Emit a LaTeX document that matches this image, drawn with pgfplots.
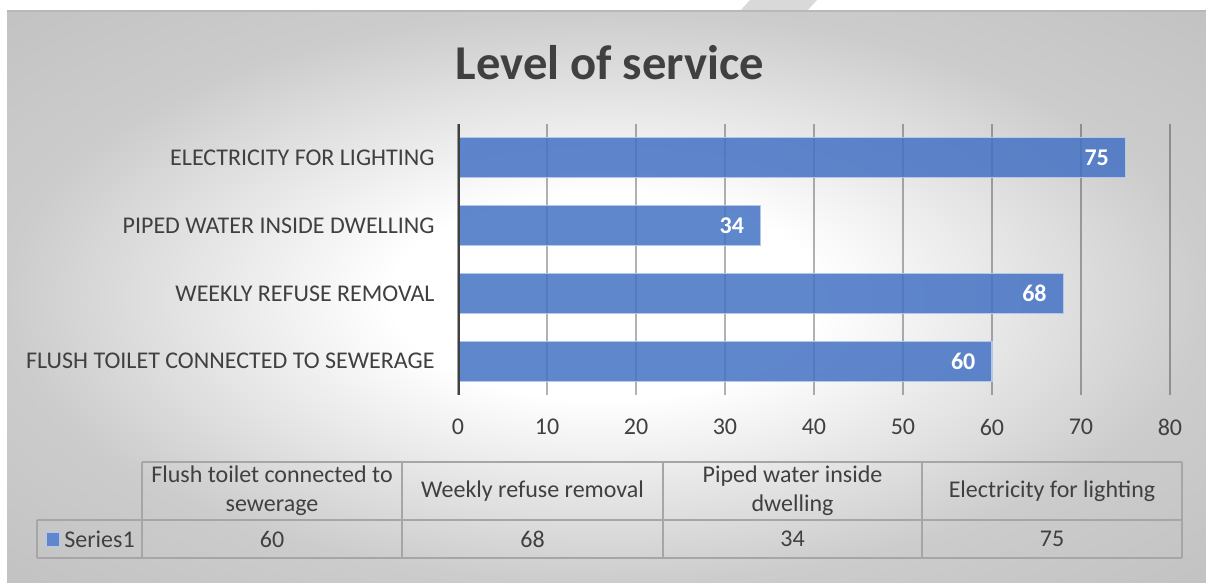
\documentclass[border=0pt]{standalone}
\usepackage{fontspec}
\setmainfont{Carlito}
\usepackage{pgfplots}
\pgfplotsset{compat=1.18}
\definecolor{barblue}{HTML}{4472C4}
\definecolor{txt}{HTML}{404040}
\definecolor{tline}{HTML}{A6A6A6}
\pgfdeclareradialshading{bgshade}{\pgfpoint{0bp}{0bp}}{color(0bp)=(white); color(9bp)=(white); color(25bp)=(black!20); color(36bp)=(black!24); color(50bp)=(black!24)}
\begin{document}
\begin{tikzpicture}
\begin{scope}[x=0.5pt,y=-0.5pt]
\useasboundingbox (0,0) rectangle (1206,583);
\fill[white] (0,0) rectangle (1206,583);
\fill[black!15] (750,0) -- (817,0) -- (807,11) -- (740,11) -- cycle;
\shade[shading=bgshade] (7,11) rectangle (1206,583);
\draw[black!28, line width=0.75pt] (7,11) -- (1206,11);
\node[font=\fontsize{24.3}{29}\selectfont\bfseries, text=txt, anchor=base] at (610,80) {Level of service};
% data table
\begin{scope}[tline, line width=0.75pt]
\draw (142,462) -- (1182,462);
\draw (37,520) -- (1182,520);
\draw (37,558) -- (1182,558);
\draw (37,520) -- (37,558);
\foreach \xx in {142,402,663,922,1182} \draw (\xx,462) -- (\xx,558);
\end{scope}
\begin{scope}[font=\fontsize{12}{14.5}\selectfont, text=txt]
\node[align=center] at (272,491) {Flush toilet connected to\\sewerage};
\node at (532.5,491) {Weekly refuse removal};
\node[align=center] at (792.5,491) {Piped water inside\\dwelling};
\node at (1052,491) {Electricity for lighting};
\node at (272,539) {60};
\node at (532.5,539) {68};
\node at (792.5,539) {34};
\node at (1052,539) {75};
\node[anchor=west, inner sep=0pt] at (64,539) {Series1};
\end{scope}
\fill[barblue!85!white, draw=barblue!40!white, line width=0.4pt] (46,532) rectangle (59,546);
\end{scope}
\begin{axis}[
  at={(229pt,-197.5pt)}, anchor=south west,
  scale only axis, width=356pt, height=135.5pt,
  xbar, bar width=20pt,
  xmin=0, xmax=80, ymin=-0.5, ymax=3.5,
  xtick={0,10,...,80},
  ytick={0,1,2,3},
  yticklabels={FLUSH TOILET CONNECTED TO SEWERAGE, WEEKLY REFUSE REMOVAL, PIPED WATER INSIDE DWELLING, ELECTRICITY FOR LIGHTING},
  axis line style={draw=none},
  major tick length=0pt,
  xmajorgrids, grid style={draw=black, draw opacity=0.3, line width=0.75pt},
  tick label style={font=\fontsize{12}{14}\selectfont, text=txt},
  /pgf/number format/assume math mode=true,
  xticklabel style={yshift=-8.5pt},
  yticklabel style={anchor=east, inner sep=0pt, xshift=-11.5pt},
  nodes near coords,
  nodes near coords style={anchor=east, inner sep=0pt, xshift=-8pt, text=white, text opacity=1, fill opacity=1, font=\fontsize{12}{14}\selectfont\bfseries},
]
\addplot[fill=barblue, fill opacity=0.85, draw=barblue!40!white, line width=0.6pt] coordinates {(60,0) (68,1) (34,2) (75,3)};
\draw[color=txt, line width=1.75pt] (axis cs:0,-0.5) -- (axis cs:0,3.5);
\end{axis}
\end{tikzpicture}
\end{document}
